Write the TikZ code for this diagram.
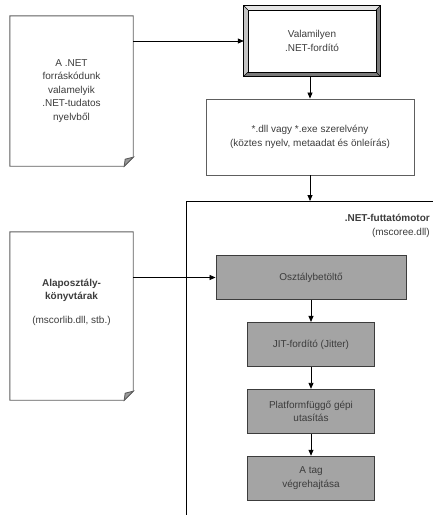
\documentclass[tikz,border=0pt]{standalone}
\usepackage{fontspec}
\setmainfont{Liberation Sans}
\usetikzlibrary{arrows.meta,positioning,calc}
\definecolor{inkgray}{HTML}{3C3C3C}
\definecolor{edgegray}{HTML}{5E5E5E}
\definecolor{stagegray}{HTML}{A4A4A4}
\definecolor{bevellight}{HTML}{E4E4E4}
\definecolor{bevelmid}{HTML}{C4C4C4}
\definecolor{beveldark}{HTML}{7A7A7A}
\definecolor{foldgray}{HTML}{9A9A9A}
\tikzset{
  docbox/.style={
    rectangle,
    align=center,
    minimum width=123pt,
    inner sep=2pt,
    text=inkgray,
    font=\fontsize{10}{13.5}\selectfont
  },
  docline/.style={draw=edgegray, line width=0.9pt},
  bevelbox/.style={
    rectangle,
    align=center,
    minimum width=136pt,
    minimum height=70pt,
    text=inkgray,
    font=\fontsize{10}{13.5}\selectfont
  },
  plainbox/.style={
    rectangle,
    draw=edgegray,
    line width=0.9pt,
    align=center,
    minimum width=208pt,
    minimum height=76pt,
    text=inkgray,
    font=\fontsize{10}{13.5}\selectfont
  },
  stage/.style={
    rectangle,
    draw=inkgray,
    fill=stagegray,
    line width=0.9pt,
    align=center,
    minimum width=127pt,
    minimum height=44pt,
    text=inkgray,
    font=\fontsize{10}{13.5}\selectfont
  },
  line/.style={-{Triangle[length=6pt,width=5pt]}, draw=black, line width=0.8pt},
  frame/.style={draw=black, line width=0.9pt}
}
\begin{document}
\begin{tikzpicture}[x=1pt, y=-1pt, node distance=22pt]
  \useasboundingbox (0,0) rectangle (433,515);

  % source and compiler
  \node[docbox, minimum height=150pt] (src) at (71.5,91) {A .NET\\forráskódunk\\valamelyik\\.NET-tudatos\\nyelvből};
  \node[bevelbox] (comp) at (312,41) {Valamilyen\\.NET-fordító};
  \node[plainbox] (dll) at (310,137) {*.dll vagy *.exe szerelvény\\(köztes nyelv, metaadat és önleírás)};

  % base class libraries
  \node[docbox, minimum height=168pt] (base) at (71.5,316) {};
  \node[docbox] (basetxt) at (71.5,302) {\textbf{Alaposztály-}\\\textbf{könyvtárak}\\[10pt](mscorlib.dll, stb.)};

  % runtime
  \coordinate (clrtop) at (310,201);
  \draw[frame] (186,515) -- (186,201) -- (433,201);
  \node[anchor=north east, align=right, text=inkgray, inner sep=0pt,
        font=\fontsize{10}{13.5}\selectfont] (clr) at (430,214)
        {\textbf{.NET-futtatómotor}\\(mscoree.dll)};
  \node[stage, minimum width=190pt] (loader) at (311,277.5) {Osztálybetöltő};
  \node[stage, below=of loader] (jit) {JIT-fordító (Jitter)};
  \node[stage, below=of jit] (plat) {Platformfüggő gépi\\utasítás};
  \node[stage, below=of plat] (exec) {A tag\\végrehajtása};

  % document outlines with folded corner
  \foreach \d in {src,base} {
    \draw[docline] (\d.north west) -- (\d.north east) -- ($(\d.south east)+(0,-9)$)
      -- ($(\d.south east)+(-9,0)$) -- (\d.south west) -- cycle;
    \filldraw[docline, fill=foldgray] ($(\d.south east)+(-9,0)$) -- ($(\d.south east)+(0,-9)$)
      -- ($(\d.south east)+(-8,-7)$) -- cycle;
  }

  % bevel of the compiler box
  \fill[bevellight] (comp.north west) -- (comp.north east) -- ($(comp.north east)+(-4,4)$) -- ($(comp.north west)+(4,4)$) -- cycle;
  \fill[bevelmid] (comp.north west) -- (comp.south west) -- ($(comp.south west)+(4,-4)$) -- ($(comp.north west)+(4,4)$) -- cycle;
  \fill[beveldark] (comp.north east) -- (comp.south east) -- ($(comp.south east)+(-4,-4)$) -- ($(comp.north east)+(-4,4)$) -- cycle;
  \fill[beveldark] (comp.south west) -- (comp.south east) -- ($(comp.south east)+(-4,-4)$) -- ($(comp.south west)+(4,-4)$) -- cycle;
  \draw[frame] (comp.north west) rectangle (comp.south east);
  \draw[frame, line width=0.6pt] ($(comp.north west)+(4,4)$) rectangle ($(comp.south east)+(-4,-4)$);
  \draw[frame, line width=0.5pt] (comp.north west) -- ++(4,4) (comp.north east) -- ++(-4,4)
    (comp.south west) -- ++(4,-4) (comp.south east) -- ++(-4,-4);

  \draw[line] (src.east |- comp.west) -- (comp.west);
  \draw[line] (comp.south -| dll.north) -- (dll.north);
  \draw[line] (dll) -- (clrtop);
  \draw[line] (base.east |- loader.west) -- (loader.west);
  \draw[line] (loader) -- (jit);
  \draw[line] (jit) -- (plat);
  \draw[line] (plat) -- (exec);
\end{tikzpicture}
\end{document}
